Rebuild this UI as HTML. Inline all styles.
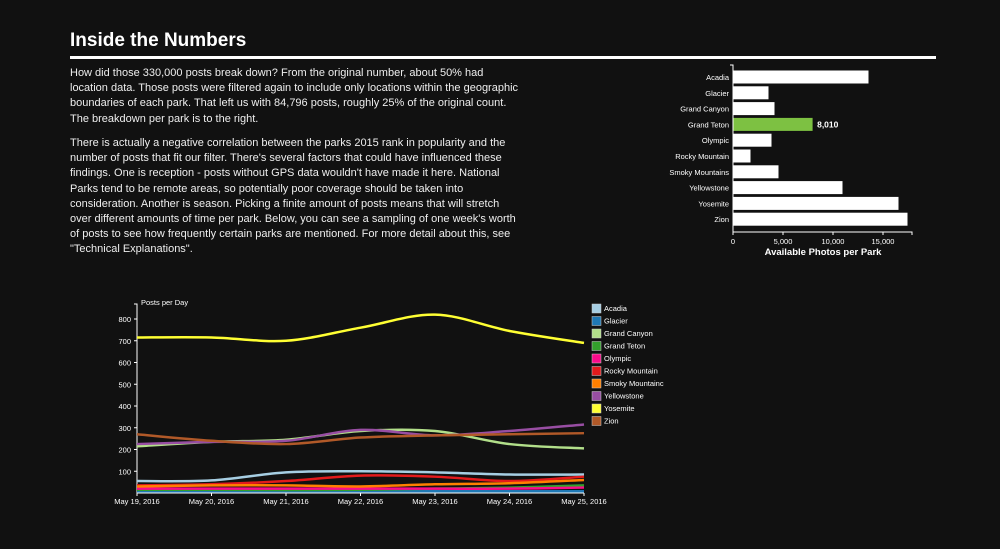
<!DOCTYPE html>
<html><head><meta charset="utf-8"><style>
body{margin:0;background:#111;width:1000px;height:549px;overflow:hidden;font-family:"Liberation Sans",sans-serif;color:#fff;position:relative}
#title{position:absolute;left:70px;top:30px;font-size:19px;font-weight:bold;margin:0}
#rule{position:absolute;left:70px;top:56px;width:866px;height:3px;background:#fff}
.p{position:absolute;left:70px;font-size:11px;line-height:15.2px;white-space:nowrap;color:#eee;letter-spacing:0}
svg{position:absolute;left:0;top:0}
</style></head><body>
<h1 id="title">Inside the Numbers</h1>
<div id="rule"></div>
<div class="p" style="top:66px">How did those 330,000 posts break down? From the original number, about 50% had<br>location data. Those posts were filtered again to include only locations within the geographic<br>boundaries of each park. That left us with 84,796 posts, roughly 25% of the original count.<br>The breakdown per park is to the right.</div>
<div class="p" style="top:136px">There is actually a negative correlation between the parks 2015 rank in popularity and the<br>number of posts that fit our filter. There's several factors that could have influenced these<br>findings. One is reception - posts without GPS data wouldn't have made it here. National<br>Parks tend to be remote areas, so potentially poor coverage should be taken into<br>consideration. Another is season. Picking a finite amount of posts means that will stretch<br>over different amounts of time per park. Below, you can see a sampling of one week's worth<br>of posts to see how frequently certain parks are mentioned. For more detail about this, see<br>"Technical Explanations".</div>
<svg id="bar" width="1000" height="549"></svg>
<svg id="line" width="1000" height="549"></svg>
<script>
const parks=["Acadia","Glacier","Grand Canyon","Grand Teton","Olympic","Rocky Mountain","Smoky Mountains","Yellowstone","Yosemite","Zion"];
const photos=[13600,3600,4200,8010,3900,1800,4600,11000,16600,17500];
const barTicks=[0,5000,10000,15000];
const days=["May 19, 2016","May 20, 2016","May 21, 2016","May 22, 2016","May 23, 2016","May 24, 2016","May 25, 2016"];
const legendNames=["Acadia","Glacier","Grand Canyon","Grand Teton","Olympic","Rocky Mountain","Smoky Mountains","Yellowstone","Yosemite","Zion"];
const colors=["#a6cee3","#1f78b4","#b2df8a","#33a02c","#fb0a8a","#e31a1c","#ff7f00","#984ea3","#ffff33","#b15928"];
const sAcadia=[55,58,95,100,95,85,85];
const sGlacier=[8,8,8,8,8,8,8];
const sGrandCanyon=[215,235,245,285,285,225,205];
const sGrandTeton=[15,15,14,15,20,25,35];
const sOlympic=[20,20,20,20,20,20,25];
const sRocky=[35,40,55,80,75,55,75];
const sSmoky=[30,35,35,30,40,45,60];
const sYellowstone=[225,235,240,290,265,285,315];
const sYosemite=[715,715,700,760,820,745,690];
const sZion=[270,240,225,255,265,270,275];
const series=[sAcadia,sGlacier,sGrandCanyon,sGrandTeton,sOlympic,sRocky,sSmoky,sYellowstone,sYosemite,sZion];
const yTicks=[100,200,300,400,500,600,700,800];
const NS="http://www.w3.org/2000/svg";
function mk(p,t,a){const e=document.createElementNS(NS,t);for(const k in a)e.setAttribute(k,a[k]);p.appendChild(e);return e;}
const bar=document.getElementById('bar');
const bx=v=>733+v*0.01, by=i=>70+i*15.8;
parks.forEach((n,i)=>{
 const r=mk(bar,'rect',{x:733,y:by(i),width:bx(photos[i])-733,height:14,fill:i==3?'#7dc142':'#fff',stroke:'#111'});
 
 
 const t=mk(bar,'text',{x:729,y:by(i)+10,'text-anchor':'end','font-size':7.5,fill:'#fff'});t.textContent=n;
 
 
});
const v=mk(bar,'text',{x:bx(photos[3])+4,y:by(3)+10,'font-size':8.5,'font-weight':'bold',fill:'#fff'});v.textContent=photos[3].toLocaleString('en-US');


mk(bar,'path',{d:'M730,65H733V232H733',stroke:'#fff',fill:'none'});
mk(bar,'path',{d:'M733,235V232H912V235',stroke:'#fff',fill:'none'});
barTicks.forEach(t=>{mk(bar,'line',{x1:bx(t),x2:bx(t),y1:232,y2:235,stroke:'#fff'});
 const e=mk(bar,'text',{x:bx(t),y:244,'text-anchor':'middle','font-size':7.5,fill:'#fff'});e.textContent=t.toLocaleString('en-US');
 
 });
const bt=mk(bar,'text',{x:823,y:255,'text-anchor':'middle','font-size':9.5,'font-weight':'bold',fill:'#fff'});bt.textContent='Available Photos per Park';


const lc=document.getElementById('line');
const lx=i=>137+i*(584-137)/(days.length-1), ly=v=>493-v*0.2175;
mk(lc,'path',{d:'M134,304H137V493',stroke:'#fff',fill:'none'});
mk(lc,'line',{x1:137,x2:584,y1:493,y2:493,stroke:'#fff'});
yTicks.forEach(t=>{mk(lc,'line',{x1:134,x2:137,y1:ly(t),y2:ly(t),stroke:'#fff'});
 const e=mk(lc,'text',{x:131,y:ly(t)+3,'text-anchor':'end','font-size':7.5,fill:'#fff'});e.textContent=t;
 
 });
days.forEach((d,i)=>{mk(lc,'line',{x1:lx(i),x2:lx(i),y1:493,y2:496,stroke:'#fff'});
 const e=mk(lc,'text',{x:lx(i),y:504,'text-anchor':'middle','font-size':7.5,fill:'#fff'});e.textContent=d;
 
 });
const yt=mk(lc,'text',{x:141,y:305,'font-size':7.5,fill:'#fff'});yt.textContent='Posts per Day';


function curve(vals){const p=vals.map((v,i)=>[lx(i),ly(v)]);let d='M'+p[0].join(',');
 for(let i=0;i<p.length-1;i++){const p0=p[i-1]||p[i],p1=p[i],p2=p[i+1],p3=p[i+2]||p2;
  const c1=[p1[0]+(p2[0]-p0[0])/6,p1[1]+(p2[1]-p0[1])/6],c2=[p2[0]-(p3[0]-p1[0])/6,p2[1]-(p3[1]-p1[1])/6];
  d+='C'+c1.join(',')+' '+c2.join(',')+' '+p2.join(',');}return d;}
series.forEach((s,k)=>{const e=mk(lc,'path',{d:curve(s),stroke:colors[k],'stroke-width':2.5,fill:'none'});
 
 });
legendNames.forEach((n,k)=>{const y=304+k*12.5;
 mk(lc,'rect',{x:592,y:y,width:9,height:9,fill:colors[k],stroke:'#ccc','stroke-width':0.5});
 const t=mk(lc,'text',{x:604,y:y+7,'font-size':7.5,fill:'#fff'});t.textContent=n.length>14?'Smoky Mountainc':n;
 
 });
</script>
</body></html>
